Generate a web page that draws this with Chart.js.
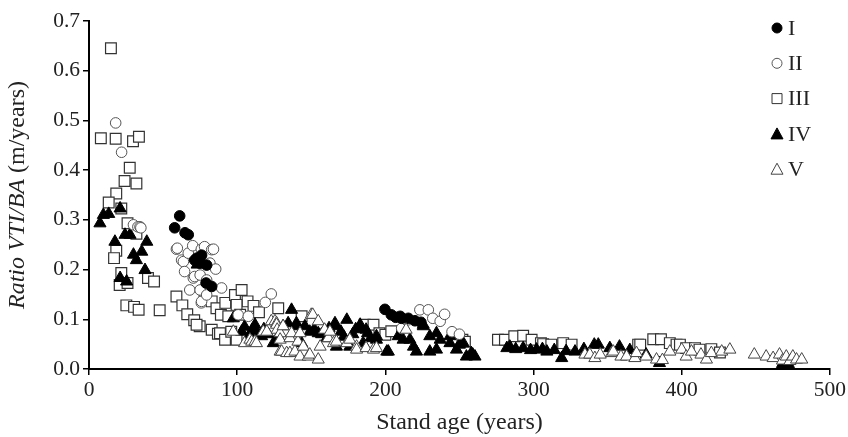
<!DOCTYPE html>
<html lang="en">
<head>
    <meta charset="UTF-8">
    <title>Ratio VTI/BA by stand age</title>
    <style>
        body { margin: 0; background: #fff; }
        .chartBox { width: 848px; height: 437px; }
    </style>
</head>
<body>
<div class="chartBox">
    <canvas id="myChart" width="848" height="437"></canvas>
</div>
<script src="https://cdn.jsdelivr.net/npm/chart.js"></script>
<script>
    // Series I (filled circles)
    const ageI = [57.8, 61.2, 64.8, 67, 72.7, 74.7, 75, 76, 79.4, 71.3, 79, 82.8, 199.7, 204, 207, 210, 211, 215.5, 220, 224];
    const ratioI = [0.284, 0.308, 0.274, 0.27, 0.223, 0.213, 0.216, 0.229, 0.209, 0.219, 0.173, 0.166, 0.12, 0.109, 0.104, 0.106, 0.102, 0.102, 0.097, 0.094];

    // Series II (open circles)
    const ageII = [18, 22, 30, 33, 34.4, 35, 59, 59.6, 62.5, 63.7, 64.5, 67, 68, 70, 70.4, 71.3, 75, 75, 75.8, 75.8, 76, 78, 79.4, 79.4, 81.6, 82.8, 84, 85.5, 89.5, 100.7, 107.5, 119, 123, 211, 214, 215.5, 223.3, 229, 232, 237, 240, 245, 250];
    const ratioII = [0.495, 0.436, 0.29, 0.286, 0.286, 0.284, 0.241, 0.243, 0.219, 0.216, 0.196, 0.233, 0.159, 0.248, 0.183, 0.186, 0.159, 0.189, 0.241, 0.133, 0.136, 0.246, 0.149, 0.179, 0.213, 0.24, 0.241, 0.201, 0.163, 0.109, 0.106, 0.134, 0.151, 0.082, 0.099, 0.099, 0.119, 0.119, 0.102, 0.096, 0.11, 0.075, 0.07];

    // Series III (open squares)
    const ageIII = [8, 14.8, 18, 29.7, 33.7, 27.5, 24, 32, 18.4, 13.3, 21.8, 26, 32, 18.4, 16.9, 21.8, 20.7, 26, 39.8, 43.9, 25.2, 30.4, 33.5, 47.7,
        59, 63, 66.3, 71, 74.7, 78, 82.8, 86, 89, 94, 92, 98.5, 103, 107, 111, 114.7, 127.7, 143.5, 72.6, 82.8, 87, 88.4, 91.8, 96, 99.6, 99.6, 102,
        186, 192, 196, 200, 204, 248, 252, 253.7, 276, 280.7, 287, 293, 298.7, 305, 306.5, 312, 320, 325.7, 370.6, 372, 380.8, 386, 392, 396.5, 398.8, 403, 409, 412, 420, 425.8];
    const ratioIII = [0.464, 0.645, 0.463, 0.458, 0.467, 0.405, 0.378, 0.373, 0.353, 0.335, 0.323, 0.293, 0.272, 0.238, 0.223, 0.193, 0.169, 0.173, 0.183, 0.176, 0.128, 0.125, 0.119, 0.118,
        0.146, 0.128, 0.11, 0.098, 0.086, 0.147, 0.136, 0.122, 0.109, 0.106, 0.133, 0.149, 0.159, 0.136, 0.127, 0.114, 0.122, 0.106, 0.089, 0.079, 0.071, 0.072, 0.059, 0.075, 0.059, 0.129, 0.109,
        0.089, 0.089, 0.072, 0.069, 0.076, 0.059, 0.059, 0.055, 0.059, 0.059, 0.066, 0.067, 0.059, 0.052, 0.05, 0.049, 0.052, 0.049, 0.049, 0.049, 0.06, 0.06, 0.052, 0.049, 0.049, 0.042, 0.042, 0.039, 0.04, 0.033];

    // Series IV (filled triangles)
    const ageIV = [7.4, 9.7, 13.3, 21, 17.5, 24.3, 27.7, 39, 30, 32, 35.6, 37.8, 21, 25.4, 73,
        97.4, 103, 105, 108.6, 110, 112, 113, 116.5, 118, 121, 124.4, 127.7, 131, 134.4, 136.7, 140, 140, 143.5, 145.7, 149, 152, 154.7, 157, 160.4, 162,
        166, 166, 167, 170, 172, 174, 176, 178, 180, 182.9, 183, 185, 187, 188, 190, 194, 194, 201, 202, 208.7, 212, 216.6, 219, 221, 225.6, 225.6,
        230, 230, 234.5, 234.5, 237, 243.6, 243.6, 248, 250, 252.6, 254.7, 258, 259, 260.5,
        282, 284, 288, 293, 298, 302, 306, 309, 314, 319, 322, 328, 334, 341, 343.7, 351.5, 358, 365, 376, 385, 468, 472];
    const ratioIV = [0.293, 0.31, 0.312, 0.323, 0.256, 0.27, 0.27, 0.256, 0.23, 0.219, 0.236, 0.199, 0.183, 0.176, 0.21,
        0.102, 0.075, 0.085, 0.069, 0.078, 0.089, 0.075, 0.066, 0.08, 0.07, 0.052, 0.066, 0.086, 0.092, 0.119, 0.086, 0.092, 0.052, 0.086, 0.075, 0.08, 0.072, 0.07, 0.062, 0.082,
        0.086, 0.092, 0.045, 0.075, 0.065, 0.099, 0.045, 0.07, 0.08, 0.082, 0.089, 0.052, 0.079, 0.072, 0.062, 0.059, 0.066, 0.035, 0.035, 0.066, 0.059, 0.059, 0.045, 0.035, 0.086, 0.089,
        0.066, 0.035, 0.072, 0.039, 0.059, 0.066, 0.052, 0.039, 0.049, 0.052, 0.025, 0.032, 0.029, 0.025,
        0.042, 0.045, 0.04, 0.042, 0.038, 0.039, 0.04, 0.035, 0.038, 0.022, 0.036, 0.035, 0.04, 0.049, 0.049, 0.042, 0.045, 0.038, 0.029, 0.012, 0.01, 0.01];

    // Series V (open triangles)
    const ageV = [97.4, 105, 108.6, 109.8, 112, 113, 117.6, 120, 123, 125.5, 126.6, 126.6, 127, 129, 129, 129, 130, 131, 133.4, 135.6, 135.6, 136.7, 139, 141, 142.4, 142.4,
        144.6, 148, 149, 150, 151, 154.7, 154.7, 156, 159, 161.5, 162.6, 165, 167, 174, 176, 180.6, 180.6, 187, 192, 194, 214,
        334.7, 338, 341.4, 345, 352.7, 353.8, 359, 362.8, 368.4, 369.5, 376, 383, 387, 392, 400, 403, 406.6, 413, 416.7, 420, 427, 432.5,
        449, 457, 461.7, 466, 468, 470.6, 473, 475, 477.5, 481];
    const ratioV = [0.075, 0.052, 0.059, 0.055, 0.055, 0.052, 0.075, 0.075, 0.096, 0.096, 0.092, 0.089, 0.079, 0.072, 0.059, 0.035, 0.035, 0.086, 0.032, 0.032, 0.062, 0.072, 0.035, 0.055, 0.025, 0.072,
        0.045, 0.025, 0.029, 0.109, 0.109, 0.019, 0.096, 0.045, 0.079, 0.062, 0.075, 0.052, 0.055, 0.052, 0.059, 0.045, 0.039, 0.042, 0.039, 0.042, 0.079,
        0.029, 0.029, 0.022, 0.029, 0.032, 0.035, 0.025, 0.025, 0.022, 0.032, 0.025, 0.019, 0.018, 0.035, 0.039, 0.025, 0.035, 0.029, 0.019, 0.032, 0.035, 0.039,
        0.029, 0.025, 0.022, 0.029, 0.017, 0.025, 0.016, 0.025, 0.019, 0.019];

    const seriesNames = ['I', 'II', 'III', 'IV', 'V'];
    const xTicks = [0, 100, 200, 300, 400, 500];
    const yTicks = [0.0, 0.1, 0.2, 0.3, 0.4, 0.5, 0.6, 0.7];

    const FONT = "'Liberation Serif', 'DejaVu Serif', serif";

    function pairs(xs, ys) {
        return xs.map((x, i) => ({x: x, y: ys[i]}));
    }

    // Setup block
    const data = {
        datasets: [
            {
                label: seriesNames[0],
                data: pairs(ageI, ratioI),
                pointStyle: 'circle',
                pointRadius: 5.3,
                backgroundColor: '#000',
                borderColor: '#000',
                borderWidth: 1,
                order: 2
            },
            {
                label: seriesNames[1],
                data: pairs(ageII, ratioII),
                pointStyle: 'circle',
                pointRadius: 5.3,
                backgroundColor: '#fff',
                borderColor: '#555',
                borderWidth: 1,
                order: 3
            },
            {
                label: seriesNames[2],
                data: pairs(ageIII, ratioIII),
                pointStyle: 'rect',
                pointRadius: 7.6,
                backgroundColor: '#fff',
                borderColor: '#333',
                borderWidth: 1.2,
                order: 5
            },
            {
                label: seriesNames[3],
                data: pairs(ageIV, ratioIV),
                pointStyle: 'triangle',
                pointRadius: 7,
                backgroundColor: '#000',
                borderColor: '#000',
                borderWidth: 1,
                order: 4
            },
            {
                label: seriesNames[4],
                data: pairs(ageV, ratioV),
                pointStyle: 'triangle',
                pointRadius: 7,
                backgroundColor: '#fff',
                borderColor: '#444',
                borderWidth: 1,
                order: 1
            }
        ]
    };

    // y title with italic part + custom legend in the top right
    const extras = {
        id: 'extras',
        afterDraw(chart) {
            const ctx = chart.ctx;
            ctx.save();
            ctx.fillStyle = '#222';
            ctx.textBaseline = 'middle';
            const it = "italic 24px " + FONT;
            const nm = "24px " + FONT;
            ctx.font = it;
            const w1 = ctx.measureText('Ratio VTI/BA').width;
            ctx.font = nm;
            const w2 = ctx.measureText(' (m/years)').width;
            ctx.translate(18, 195);
            ctx.rotate(-Math.PI / 2);
            let sx = -(w1 + w2) / 2;
            ctx.textAlign = 'left';
            ctx.font = it;
            ctx.fillText('Ratio VTI/BA', sx, 0);
            ctx.font = nm;
            ctx.fillText(' (m/years)', sx + w1, 0);
            ctx.restore();

            // legend
            ctx.save();
            chart.data.datasets.forEach((ds, i) => {
                const cx = 777, cy = 28 + i * 35.3;
                ctx.fillStyle = ds.backgroundColor;
                ctx.strokeStyle = ds.borderColor;
                ctx.lineWidth = 1;
                ctx.beginPath();
                if (ds.pointStyle === 'circle') {
                    ctx.arc(cx, cy, 5, 0, Math.PI * 2);
                } else if (ds.pointStyle === 'rect') {
                    ctx.rect(cx - 5, cy - 5, 10, 10);
                } else {
                    ctx.moveTo(cx, cy - 6);
                    ctx.lineTo(cx + 6, cy + 5);
                    ctx.lineTo(cx - 6, cy + 5);
                    ctx.closePath();
                }
                ctx.fill();
                ctx.stroke();
                ctx.fillStyle = '#222';
                ctx.font = "22px " + FONT;
                ctx.textAlign = 'left';
                ctx.textBaseline = 'middle';
                ctx.fillText(ds.label, 788, cy + 1);
            });
            ctx.restore();
        }
    };

    // Config block
    const config = {
        type: 'scatter',
        data: data,
        plugins: [extras],
        options: {
            responsive: false,
            animation: false,
            layout: { padding: { top: 21, right: 18, left: 0, bottom: 0 } },
            plugins: {
                legend: { display: false },
                tooltip: { enabled: false }
            },
            scales: {
                x: {
                    type: 'linear',
                    min: 0,
                    max: 500,
                    afterFit: (s) => { s.height = 68; },
                    afterBuildTicks: (s) => { s.ticks = xTicks.map(v => ({value: v})); },
                    ticks: {
                        color: '#222',
                        font: { family: FONT, size: 21.5 },
                        padding: 2,
                        maxRotation: 0
                    },
                    grid: {
                        drawOnChartArea: false,
                        drawTicks: true,
                        tickLength: 6,
                        color: '#000',
                        lineWidth: 1.5
                    },
                    border: { display: true, color: '#000', width: 2 },
                    title: {
                        display: true,
                        text: 'Stand age (years)',
                        color: '#222',
                        font: { family: FONT, size: 24 },
                        padding: { top: 0, bottom: 0 }
                    }
                },
                y: {
                    type: 'linear',
                    min: 0,
                    max: 0.7,
                    afterFit: (s) => { s.width = 89; },
                    afterBuildTicks: (s) => { s.ticks = yTicks.map(v => ({value: v})); },
                    ticks: {
                        color: '#222',
                        font: { family: FONT, size: 21.5 },
                        padding: 3,
                        callback: (v) => Number(v).toFixed(1)
                    },
                    grid: {
                        drawOnChartArea: false,
                        drawTicks: true,
                        tickLength: 6,
                        color: '#000',
                        lineWidth: 1.5
                    },
                    border: { display: true, color: '#000', width: 2 }
                }
            }
        }
    };

    // Init block
    const myChart = new Chart(
        document.getElementById('myChart'),
        config
    );
</script>
</body>
</html>
